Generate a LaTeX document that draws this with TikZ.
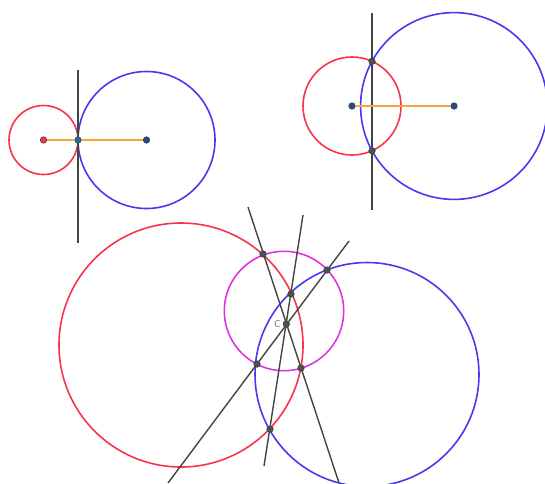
\documentclass[tikz,border=0pt]{standalone}
\usepackage{xcolor}
\usepackage{tikz}
\usetikzlibrary{positioning}
\definecolor{circred}{RGB}{250,50,75}
\definecolor{circblue}{RGB}{75,55,240}
\definecolor{circpink}{RGB}{225,50,225}
\definecolor{axisgray}{RGB}{60,72,62}
\definecolor{segorange}{RGB}{250,165,55}
\definecolor{ptblue}{RGB}{30,75,150}
\definecolor{ptgray}{RGB}{75,80,85}

\begin{document}
\begin{tikzpicture}[x=1pt, y=-1pt, line width=1.6pt]
  \tikzstyle{redc} = [draw=circred]
  \tikzstyle{bluec} = [draw=circblue]
  \tikzstyle{pinkc} = [draw=circpink]
  \tikzstyle{axis} = [draw=axisgray, line width=1.4pt]
  \tikzstyle{seg} = [draw=segorange]
  \tikzstyle{dot} = [circle, draw=black!75, line width=0.6pt, fill=ptblue, inner sep=0pt, minimum size=6.5pt]
  \tikzstyle{gdot} = [dot, fill=ptgray]

  \useasboundingbox (0,0) rectangle (545,483);

  % tangent circles
  \coordinate (ta) at (78,70);
  \coordinate (tb) at (78,243);
  \draw[redc] (43.5,140) circle[radius=34.5pt];
  \draw[bluec] (146.5,140) circle[radius=68.5pt];
  \draw[axis] (ta) -- (tb);
  \node[dot, fill=circred] (o1) at (43.5,140) {};
  \node[dot, fill=ptblue!80!cyan] (t) at (78,140) {};
  \node[dot] (o2) at (146.5,140) {};
  \draw[seg] (o1) -- (t);
  \draw[seg] (t) -- (o2);

  % intersecting circles
  \coordinate (ra) at (372,13);
  \coordinate (rb) at (372,210);
  \draw[redc] (352,106) circle[radius=49pt];
  \draw[bluec] (454,106) circle[radius=93.4pt];
  \draw[axis] (ra) -- (rb);
  \node[dot] (o3) at (352,106) {};
  \node[dot] (o4) at (454,106) {};
  \draw[seg] (o3) -- (o4);
  \node[gdot] (p1) at (372,61.3) {};
  \node[gdot] (p2) at (372,150.7) {};

  % three circles, radical center
  \draw[redc] (181,345) circle[radius=122pt];
  \draw[pinkc] (284,311) circle[radius=59.7pt];
  \draw[bluec] (367,374.5) circle[radius=112pt];
  \coordinate (la) at (248,207);
  \coordinate (lb) at (339,483);
  \coordinate (ma) at (303,215);
  \coordinate (mb) at (264,466);
  \coordinate (na) at (349,241);
  \coordinate (nb) at (168,483);
  \draw[axis] (la) -- (lb);
  \draw[axis] (ma) -- (mb);
  \draw[axis] (na) -- (nb);
  \node[gdot] (q1) at (263,254) {};
  \node[gdot] (q2) at (301,368) {};
  \node[gdot] (q3) at (291,294) {};
  \node[gdot] (q4) at (270,429) {};
  \node[gdot] (q5) at (327,270) {};
  \node[gdot] (q6) at (257,364) {};
  \node[gdot] (c) at (286.3,324) {};
  \node[left=0.5pt of c, text=black!60, font=\sffamily, inner sep=1pt] (clabel) {C};
\end{tikzpicture}
\end{document}
